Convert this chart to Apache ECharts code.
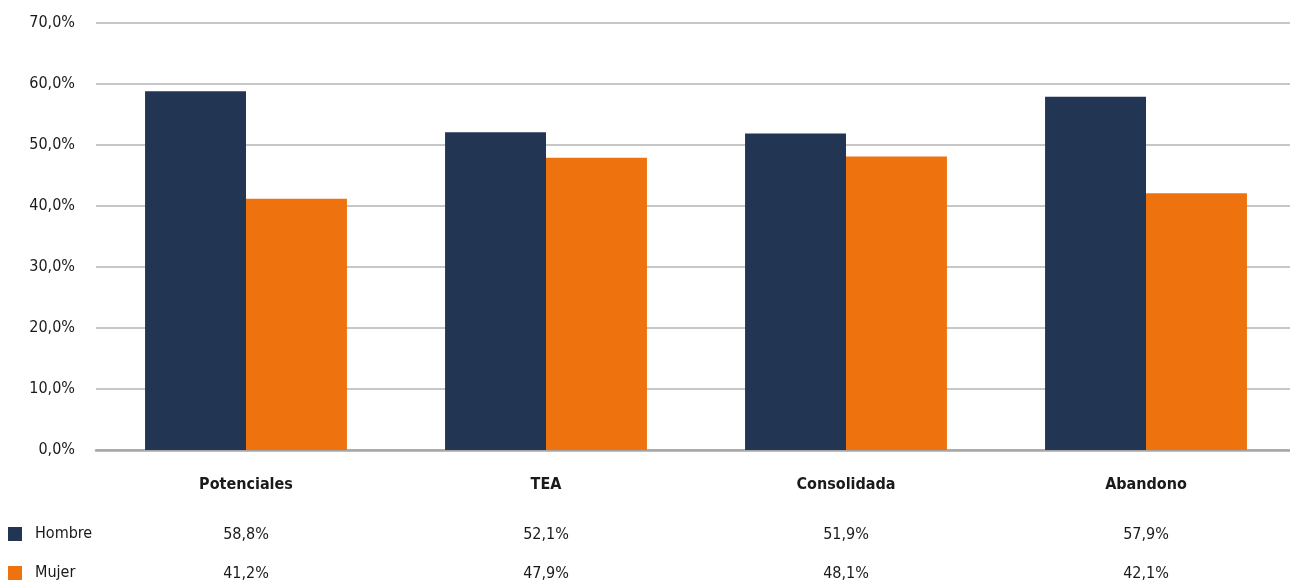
<!DOCTYPE html>
<html><head><meta charset="utf-8">
<script src="https://cdn.jsdelivr.net/npm/echarts@6/dist/echarts.min.js"></script>
<style>html,body{margin:0;padding:0;background:#fff;overflow:hidden;width:1290px;height:584px}#c{width:1296px;height:584px}</style>
</head><body><div id="c"></div>
<script>
const categories = ['Potenciales', 'TEA', 'Consolidada', 'Abandono'];
const hombre = [58.8, 52.1, 51.9, 57.9];
const mujer = [41.2, 47.9, 48.1, 42.1];
const yTicks = [0, 10, 20, 30, 40, 50, 60, 70];
const seriesNames = ['Hombre', 'Mujer'];

const FONT = '"Liberation Sans Narrow", "DejaVu Sans Condensed", sans-serif';
const fmt = v => v.toFixed(1).replace('.', ',') + '%';
const chart = echarts.init(document.getElementById('c'));
const tableAxis = (arr, offset) => ({
  type: 'category', data: categories, position: 'bottom', offset: offset,
  axisLine: {show: false}, axisTick: {show: false}, splitLine: {show: false},
  axisLabel: {formatter: (v, i) => fmt(arr[i]), fontFamily: FONT, fontSize: 16, color: '#1a1a1a', margin: 0, verticalAlign: 'middle'}
});
const legendFor = (name, top) => ({
  data: [name], orient: 'vertical', left: 8, top: top, itemWidth: 14, itemHeight: 14,
  icon: 'rect', padding: 0, selectedMode: false,
  textStyle: {fontFamily: FONT, fontSize: 16, color: '#1a1a1a', padding: [0, 0, 0, 8]}
});
chart.setOption({
  animation: false,
  textStyle: {fontFamily: FONT},
  grid: {left: 96, right: 0, top: 23, bottom: 134},
  legend: [legendFor(seriesNames[0], 526), legendFor(seriesNames[1], 565)],
  xAxis: [
    {type: 'category', data: categories,
     axisLine: {lineStyle: {color: '#a6a6a6', width: 2.5}}, axisTick: {show: false},
     axisLabel: {fontFamily: FONT, fontSize: 16, fontWeight: 'bold', color: '#1a1a1a', margin: 35, verticalAlign: 'middle'}},
    tableAxis(hombre, 85),
    tableAxis(mujer, 124)
  ],
  yAxis: {
    type: 'value', min: 0, max: 70, interval: 10,
    axisLine: {show: false}, axisTick: {show: false},
    splitLine: {lineStyle: {color: '#b4b4b4', width: 1.5}},
    axisLabel: {formatter: v => fmt(v), fontFamily: FONT, fontSize: 16, color: '#1a1a1a', margin: 21}
  },
  series: [
    {name: seriesNames[0], type: 'bar', data: hombre, itemStyle: {color: '#223654'}, barGap: '0%', barCategoryGap: '32.7%'},
    {name: seriesNames[1], type: 'bar', data: mujer, itemStyle: {color: '#EE730E'}, barGap: '0%', barCategoryGap: '32.7%'}
  ]
});
</script></body></html>
